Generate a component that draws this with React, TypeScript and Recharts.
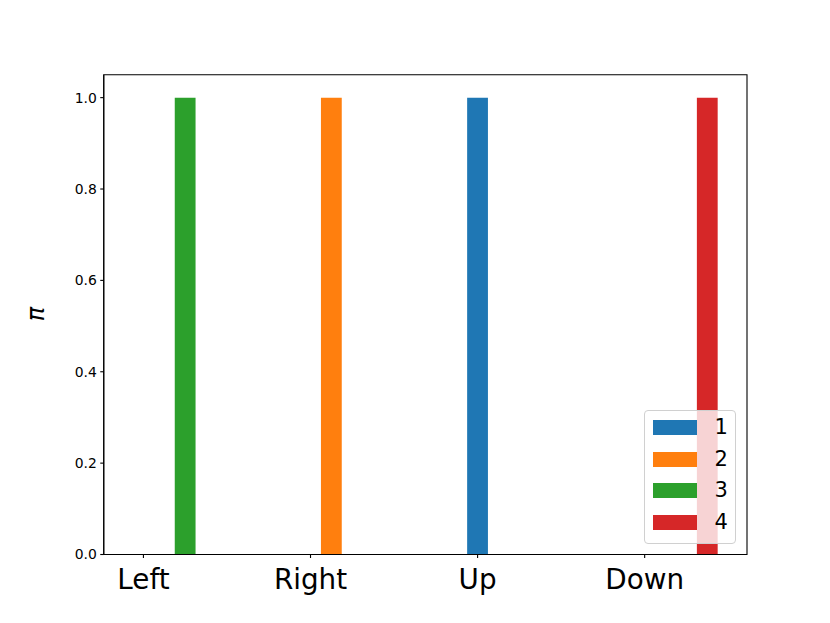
import React from 'react';
import { BarChart, Bar, XAxis, YAxis, Cell, ReferenceArea } from 'recharts';

const categories = ['Left', 'Right', 'Up', 'Down'];
const seriesNames = ['1', '2', '3', '4'];
const seriesColors = ['#1f77b4', '#ff7f0e', '#2ca02c', '#d62728'];
const series1 = [0, 0, 1, 0];
const series2 = [0, 1, 0, 0];
const series3 = [1, 0, 0, 0];
const series4 = [0, 0, 0, 1];
const yTicks = [0, 0.2, 0.4, 0.6, 0.8, 1.0];
const xTicks = [0, 1, 2, 3];

const allSeries = [series1, series2, series3, series4];
const barWidth = 0.125;
const xDomain: [number, number] = [-0.2375, 3.6125];
const yDomain: [number, number] = [0, 1.05];

const data: { x: number; v: number; s: number }[] = [];
categories.forEach((_, i) => {
  allSeries.forEach((vals, j) => {
    data.push({ x: i + j * barWidth, v: vals[i], s: j });
  });
});

const FONT = 'DejaVu Sans, sans-serif';

export default function App() {
  return (
    <div style={{ position: 'absolute', left: 0, top: 0, width: 830, height: 623, background: '#fff' }}>
      <BarChart
        width={830}
        height={623}
        data={data}
        margin={{ top: 74.8, right: 83, left: 43.75, bottom: 18.5 }}
      >
        <XAxis
          dataKey="x"
          type="number"
          domain={xDomain}
          allowDataOverflow
          ticks={xTicks}
          tickFormatter={(v: number) => categories[v]}
          height={50}
          tickSize={3.5}
          tickMargin={11.5}
          axisLine={{ stroke: '#000', strokeWidth: 1.1 }}
          tickLine={{ stroke: '#000', strokeWidth: 1.1 }}
          tick={{ fill: '#000', fontSize: 27.8, fontFamily: FONT }}
        />
        <YAxis
          domain={yDomain}
          ticks={yTicks}
          allowDataOverflow
          width={60}
          tickSize={3.5}
          tickMargin={3.5}
          tickFormatter={(v: number) => v.toFixed(1)}
          axisLine={{ stroke: '#000', strokeWidth: 1.1 }}
          tickLine={{ stroke: '#000', strokeWidth: 1.1 }}
          tick={{ fill: '#000', fontSize: 13.9, fontFamily: FONT }}
          label={{
            content: () => (
              <text
                x={36}
                y={314}
                transform="rotate(-90 36 314)"
                textAnchor="middle"
                dominantBaseline="central"
                fontSize={24}
                fontStyle="italic"
                fontFamily={FONT}
                fill="#000"
              >
                π
              </text>
            ),
          }}
        />
        <Bar dataKey="v" barSize={20.8} isAnimationActive={false}>
          {data.map((d, k) => (
            <Cell key={k} fill={seriesColors[d.s]} />
          ))}
        </Bar>
        <ReferenceArea
          x1={xDomain[0]}
          x2={xDomain[1]}
          y1={yDomain[0]}
          y2={yDomain[1]}
          fill="none"
          fillOpacity={0}
          stroke="#000"
          strokeWidth={1.1}
          strokeOpacity={1}
          ifOverflow="visible"
        />
      </BarChart>
      <div
        style={{
          position: 'absolute',
          left: 644.3,
          top: 410,
          width: 91.7,
          height: 134,
          boxSizing: 'border-box',
          border: '1px solid #d0d0d0',
          borderRadius: 4,
          background: 'rgba(255,255,255,0.8)',
        }}
      >
        {seriesNames.map((name, k) => (
          <div
            key={name}
            style={{ position: 'absolute', left: 8, top: 9 + k * 31.7, height: 15, display: 'flex', alignItems: 'center' }}
          >
            <div style={{ width: 43.3, height: 15, background: seriesColors[k] }} />
            <span
              style={{
                marginLeft: 18,
                fontFamily: FONT,
                fontSize: 21,
                lineHeight: '15px',
                color: '#000',
              }}
            >
              {name}
            </span>
          </div>
        ))}
      </div>
    </div>
  );
}
